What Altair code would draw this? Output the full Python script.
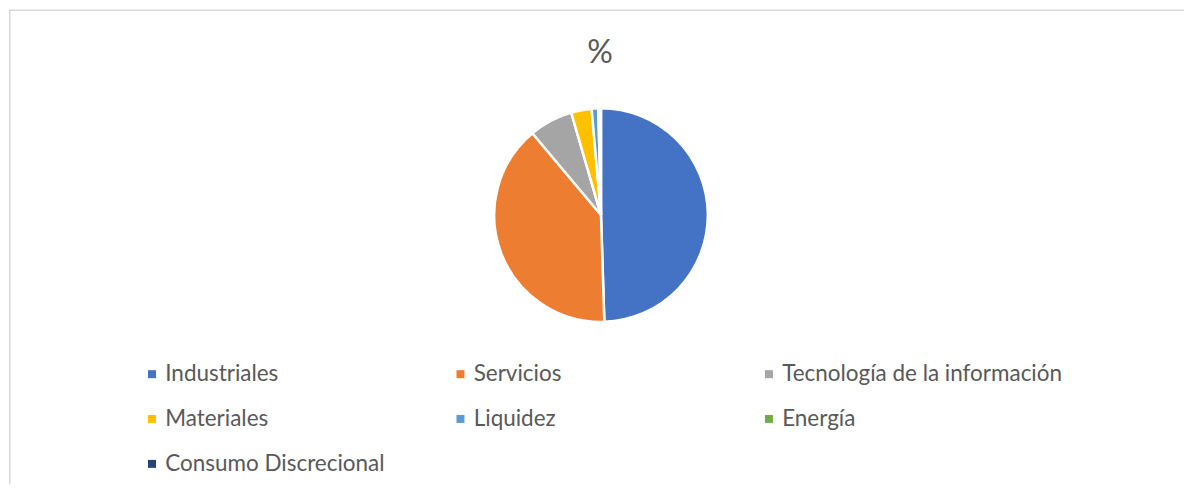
import altair as alt
import pandas as pd

categories = ["Industriales", "Servicios", "Tecnología de la información",
              "Materiales", "Liquidez", "Energía", "Consumo Discrecional"]
values = [49.5, 39.4, 6.6, 3.1, 1.0, 0.2, 0.2]
colors = ["#4472C4", "#ED7D31", "#A5A5A5", "#FFC000", "#5B9BD5", "#70AD47", "#264478"]
title_text = "%"

df = pd.DataFrame({"categoria": categories, "valor": values, "orden": list(range(len(categories)))})

W, H = 1177, 476
FONT = "Lato"
GRAY = "#595959"

pie = alt.Chart(df).mark_arc(outerRadius=107, stroke="white", strokeWidth=2.5).encode(
    theta=alt.Theta("valor:Q", stack=True),
    order=alt.Order("orden:Q"),
    color=alt.Color(
        "categoria:N",
        scale=alt.Scale(domain=categories, range=colors),
        sort=categories,
        legend=alt.Legend(
            title=None, orient="none", legendX=132, legendY=354,
            direction="horizontal", columns=3, gridAlign="all",
            columnPadding=4, rowPadding=22,
            symbolType="square", symbolSize=64, symbolStrokeWidth=0,
            symbolOffset=0, labelOffset=2,
            labelFont=FONT, labelFontSize=22.5, labelColor=GRAY,
            labelLimit=400, padding=0,
        ),
    ),
    x=alt.value(593),
    y=alt.value(206),
)

title = alt.Chart(pd.DataFrame({"t": [title_text]})).mark_text(
    font=FONT, fontSize=32, color=GRAY, align="center", baseline="middle"
).encode(text="t:N", x=alt.value(592), y=alt.value(44))

border_left = alt.Chart(pd.DataFrame({"a": [0]})).mark_rule(color="#D9D9D9", strokeWidth=1.5).encode(
    x=alt.value(0.75), y=alt.value(0), y2=alt.value(H)
)
border_top = alt.Chart(pd.DataFrame({"a": [0]})).mark_rule(color="#D9D9D9", strokeWidth=1.5).encode(
    y=alt.value(0.75), x=alt.value(0), x2=alt.value(W)
)

chart = alt.layer(border_left, border_top, pie, title).properties(
    width=W, height=H, padding=0, background="white"
).configure_view(stroke=None)

chart.save("out.html", embed_options={"renderer": "svg", "actions": False})
